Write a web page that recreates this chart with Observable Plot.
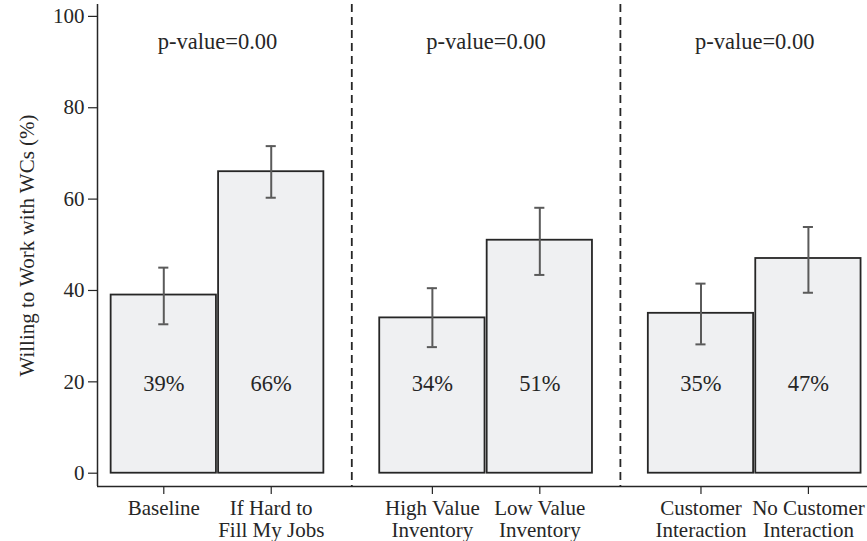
<!DOCTYPE html>
<html>
<head>
<meta charset="utf-8">
<script src="https://cdn.jsdelivr.net/npm/d3@7"></script>
<script src="https://cdn.jsdelivr.net/npm/@observablehq/plot@0.6"></script>
<style>
  body { margin: 0; background: #fff; }
  #chart svg { display: block; font-family: "Liberation Serif", "Times New Roman", Times, serif; }
</style>
</head>
<body>
<div id="chart"></div>
<script>
// Share of respondents willing to work with WCs, by survey framing
const categories = [
  "Baseline", "If Hard to\nFill My Jobs",
  "High Value\nInventory", "Low Value\nInventory",
  "Customer\nInteraction", "No Customer\nInteraction"
];
const groupOf = [0, 0, 1, 1, 2, 2];
const shares = [39, 66, 34, 51, 35, 47];
const ciLow = [32.6, 60.3, 27.6, 43.4, 28.2, 39.5];
const ciHigh = [45.0, 71.6, 40.5, 58.1, 41.5, 53.9];
const pLabels = ["p-value=0.00", "p-value=0.00", "p-value=0.00"];
const yTicks = [0, 20, 40, 60, 80, 100];

// Slot layout: bars of a pair sit side by side, pairs are separated by half a slot
const GROUP_STEP = 2.5;
const seen = {};
const slot = groupOf.map(g => {
  const j = seen[g] = (seen[g] ?? -1) + 1;
  return g * GROUP_STEP + j;
});
const bars = categories.map((c, i) => ({
  label: c, pos: slot[i], share: shares[i], lo: ciLow[i], hi: ciHigh[i]
}));
const nGroups = pLabels.length;
const groupCenters = d3.range(nGroups).map(g => d3.mean(bars.filter((b, i) => groupOf[i] === g), b => b.pos));
const separators = d3.range(nGroups - 1).map(g => {
  const lastOf = d3.max(bars.filter((b, i) => groupOf[i] === g), b => b.pos);
  const firstNext = d3.min(bars.filter((b, i) => groupOf[i] === g + 1), b => b.pos);
  return (lastOf + firstNext) / 2;
});
const pNotes = pLabels.map((t, g) => ({text: t, pos: groupCenters[g]}));

const HALF = 0.49;      // half bar width in slots
const CAP = 0.047;      // half cap width in slots
const xDomain = [-0.617, 6.55];
const yDomain = [-2.91, 102.6];
const ink = "#262626";
const serif = "Liberation Serif";

const chart = Plot.plot({
  width: 867,
  height: 541,
  marginLeft: 97,
  marginRight: 0,
  marginTop: 4,
  marginBottom: 55,
  x: {domain: xDomain, axis: null},
  y: {domain: yDomain, axis: null},
  marks: [
    // group separators
    Plot.ruleX(separators, {stroke: ink, strokeWidth: 1.8, strokeDasharray: "8,5"}),
    // bars
    Plot.rect(bars, {
      x1: d => d.pos - HALF, x2: d => d.pos + HALF, y1: 0, y2: "share",
      fill: "#eff0f2", stroke: ink, strokeWidth: 1.8
    }),
    // confidence intervals
    Plot.ruleX(bars, {x: "pos", y1: "lo", y2: "hi", stroke: "#5a5a5a", strokeWidth: 2}),
    Plot.ruleY(bars, {y: "lo", x1: d => d.pos - CAP, x2: d => d.pos + CAP, stroke: "#5a5a5a", strokeWidth: 2}),
    Plot.ruleY(bars, {y: "hi", x1: d => d.pos - CAP, x2: d => d.pos + CAP, stroke: "#5a5a5a", strokeWidth: 2}),
    // value labels inside bars
    Plot.text(bars, {x: "pos", y: 20, dy: 1.5, text: d => `${d.share}%`, fontSize: 22.5, fontFamily: serif, fill: ink}),
    // p-values per pair
    Plot.text(pNotes, {x: "pos", y: 94.5, text: "text", fontSize: 22.5, fontFamily: serif, fill: ink}),
    // axis lines
    Plot.ruleX([xDomain[0]], {stroke: ink, strokeWidth: 1.5}),
    Plot.ruleY([yDomain[0]], {stroke: ink, strokeWidth: 1.5}),
    // y axis
    Plot.axisY(yTicks, {
      tickSize: 9, tickPadding: 4, stroke: ink, strokeWidth: 1.2,
      fontSize: 21, fontFamily: serif, fill: ink, label: null
    }),
    // x axis
    Plot.axisX(bars.map(b => b.pos), {
      tickSize: 8, tickPadding: 4, stroke: ink, strokeWidth: 1.2,
      tickFormat: p => bars.find(b => b.pos === p).label,
      fontSize: 21, fontFamily: serif, fill: ink, lineHeight: 1.08, label: null
    }),
    // y axis title
    Plot.text(["Willing to Work with WCs (%)"], {
      frameAnchor: "left", textAnchor: "middle", lineAnchor: "middle",
      rotate: -90, dx: -70.5, dy: 0,
      fontSize: 21, fontFamily: serif, fill: ink
    })
  ]
});

document.getElementById("chart").append(chart);
</script>
</body>
</html>
